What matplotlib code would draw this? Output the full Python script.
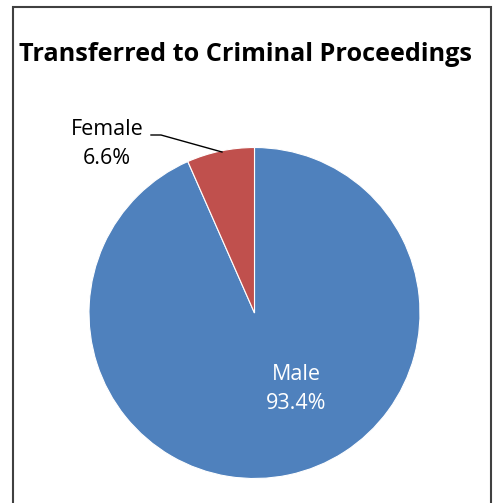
import matplotlib
matplotlib.use("Agg")
import matplotlib.pyplot as plt
from matplotlib.patches import Rectangle

title = "Transferred to Criminal Proceedings"
categories = ["Male", "Female"]
values = [93.4, 6.6]
colors = ["#4F81BD", "#C0504D"]

plt.rcParams['font.family'] = ['Open Sans', 'DejaVu Sans']

W, H = 497, 503
fig = plt.figure(figsize=(W/100, H/100), dpi=100)
ax = fig.add_axes([0, 0, 1, 1])

cx, cy, r = 254.5, H - 313, 165.5
wedges, _ = ax.pie(values, colors=colors, startangle=90, counterclock=False,
                   center=(cx, cy), radius=r,
                   wedgeprops=dict(edgecolor='white', linewidth=0.8))
ax.set_xlim(0, W)
ax.set_ylim(0, H)
ax.set_aspect('auto')
ax.axis('off')

# border
ax.add_patch(Rectangle((13, -5), 477.5, H - 7 + 5, fill=False, edgecolor='#404040', linewidth=1.5))

ax.text(245.5, H - 54, title, ha='center', va='center', fontsize=18.2, fontweight='bold')

ax.text(296, H - 389, f"{categories[0]}\n{values[0]}%", ha='center', va='center',
        fontsize=15.5, color='white', linespacing=1.55)
ax.text(107, H - 144, f"{categories[1]}\n{values[1]}%", ha='center', va='center',
        fontsize=15.5, color='black', linespacing=1.55)
ax.plot([151, 161, 222], [H - 135, H - 135, H - 152], color='black', linewidth=1)

fig.savefig("out.png", dpi=100)
